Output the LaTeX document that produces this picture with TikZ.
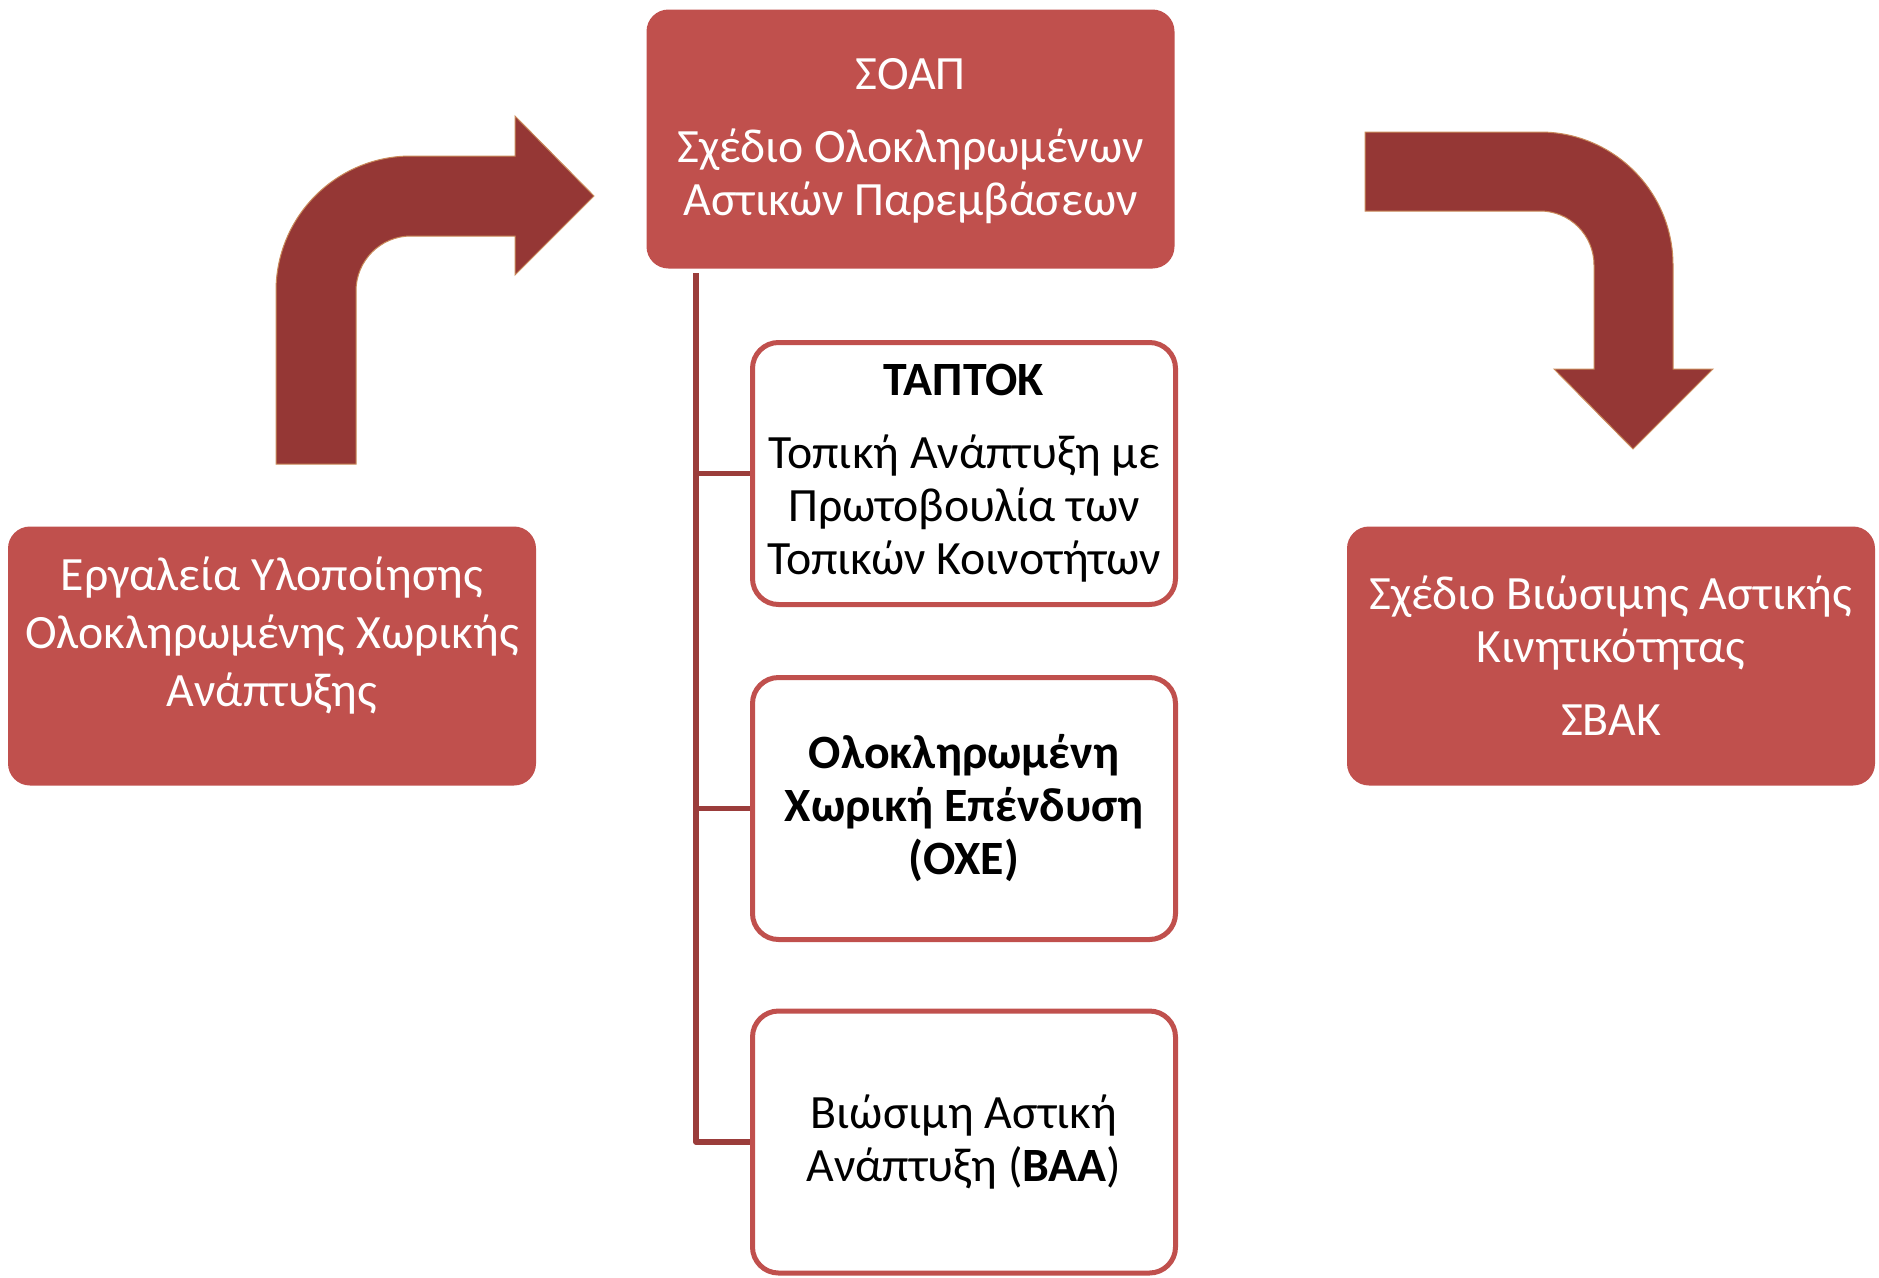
\documentclass[tikz,border=0pt]{standalone}
\usepackage{fontspec}
\setmainfont{Carlito}
\definecolor{boxred}{HTML}{C0504D}
\definecolor{arrowred}{HTML}{953735}
\definecolor{linered}{HTML}{9B3D3B}
\definecolor{arrowedge}{HTML}{C98A5A}
\newcommand\diagfont{\fontsize{47.8}{53}\selectfont}
\newcommand\widefont{\fontsize{47.8}{58}\selectfont}
\begin{document}
\begin{tikzpicture}[x=1pt,y=-1pt,
  redbox/.style={fill=boxred, rounded corners=22pt, minimum width=528pt, minimum height=259pt, inner sep=0pt, text=white, align=center, font=\diagfont},
  redtext/.style={inner sep=0pt, text=white, align=center, font=\widefont},
  whitebox/.style={draw=boxred, line width=5pt, fill=white, rounded corners=26pt, minimum width=423pt, minimum height=262pt, inner sep=0pt, align=center, font=\diagfont, text=black},
  conn/.style={draw=linered, line width=5.5pt, line join=round},
  bentarrow/.style={fill=arrowred, draw=arrowedge, line width=1pt}]
\useasboundingbox (0,0) rectangle (1879,1277);

% boxes
\node[redbox] (soap) at (910.5,139) {};
\node[redtext, font=\diagfont] (soaptext) at ([yshift=-2.5pt]soap.center) {ΣΟΑΠ\\[20pt]Σχέδιο Ολοκληρωμένων\\Αστικών Παρεμβάσεων};
\node[redbox] (tools) at (272,656) {};
\node[redtext] (toolstext) at ([yshift=20pt]tools.center) {Εργαλεία Υλοποίησης\\Ολοκληρωμένης Χωρικής\\Ανάπτυξης};
\node[redbox] (sbak) at (1611,656) {Σχέδιο Βιώσιμης Αστικής\\Κινητικότητας\\[20pt]ΣΒΑΚ};

\node[whitebox] (taptok) at (964,473.5) {\textbf{ΤΑΠΤΟΚ}\\[20pt]Τοπική Ανάπτυξη με\\Πρωτοβουλία των\\Τοπικών Κοινοτήτων};
\node[whitebox] (oxe) at (964,808.5) {\textbf{Ολοκληρωμένη}\\\textbf{Χωρική Επένδυση}\\\textbf{(ΟΧΕ)}};
\node[whitebox] (baa) at (964,1142) {Βιώσιμη Αστική\\Ανάπτυξη (\textbf{ΒΑΑ})};

% connectors
\coordinate (trunk) at (696,273);
\draw[conn] (trunk) |- (baa.west);
\draw[conn] (trunk |- taptok.west) -- (taptok.west);
\draw[conn] (trunk |- oxe.west) -- (oxe.west);

% bent arrows
\path[bentarrow] (276,464) -- (276,291)
  .. controls (276,216.4) and (336.4,156) .. (411,156)
  -- (515,156) -- (515,116) -- (594,196) -- (515,275) -- (515,236) -- (411,236)
  .. controls (380.6,236) and (356,260.6) .. (356,291)
  -- (356,464) -- cycle;
\path[bentarrow] (1365,132) -- (1540,132)
  .. controls (1613.5,132) and (1673,191.5) .. (1673,265)
  -- (1673,369) -- (1713,369) -- (1633,449) -- (1554,369) -- (1594,369) -- (1594,265)
  .. controls (1594,235.2) and (1569.8,211) .. (1540,211)
  -- (1365,211) -- cycle;
\end{tikzpicture}
\end{document}
